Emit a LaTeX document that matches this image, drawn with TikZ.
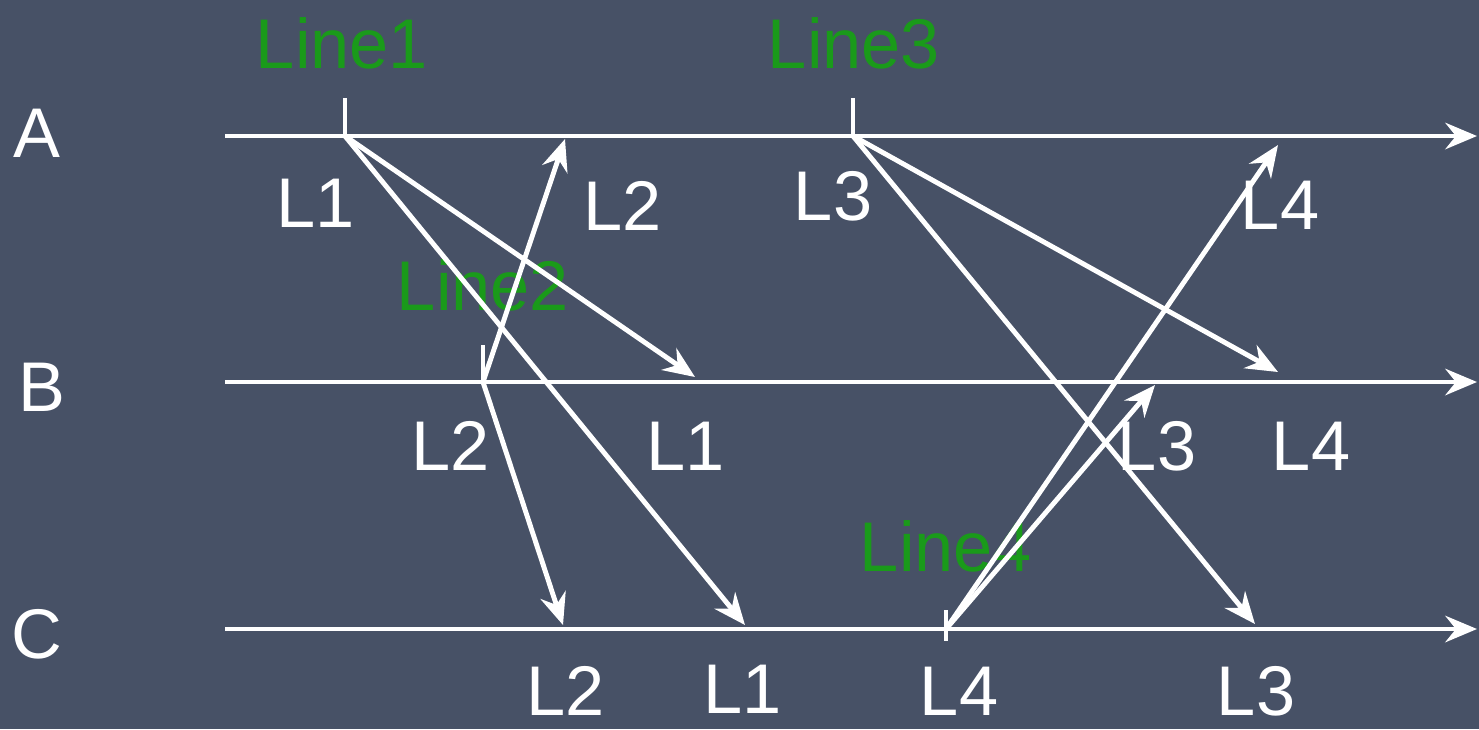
\documentclass[tikz,border=0pt]{standalone}
\usepackage{fontspec}
\setmainfont{Liberation Sans}
\usetikzlibrary{arrows.meta}
\definecolor{slatebg}{RGB}{71,81,102}
\definecolor{evgreen}{RGB}{26,154,26}
\begin{document}
\begin{tikzpicture}[x=0.01cm, y=-0.01cm, >={Stealth[length=9pt, width=7.5pt, inset=3pt]},
    lane/.style={->, draw=white, line width=1.4pt},
    msg/.style={->, draw=white, line width=1.4pt},
    tickmark/.style={draw=white, line width=1.4pt},
    proc/.style={white, inner sep=0pt, font=\fontsize{20}{24}\selectfont},
    lbl/.style={white, inner sep=0pt, font=\fontsize{20}{24}\selectfont},
    evt/.style={evgreen, inner sep=0pt, font=\fontsize{20}{24}\selectfont}]

  % ---- background and fixed frame
  \fill[slatebg] (0,0) rectangle (1479,729);
  \useasboundingbox (0,0) rectangle (1479,729);

  % ---- the three processes
  \node[proc] (pA) at (37,133) {A};
  \node[proc] (pB) at (42,387) {B};
  \node[proc] (pC) at (37,634) {C};
  \coordinate (sA) at (225,136); \coordinate (eA) at (1477,136);
  \coordinate (sB) at (225,382); \coordinate (eB) at (1477,382);
  \coordinate (sC) at (225,629); \coordinate (eC) at (1477,629);
  \draw[lane] (sA) -- (eA);
  \draw[lane] (sB) -- (eB);
  \draw[lane] (sC) -- (eC);

  % ---- the four writes, with their ticks
  \coordinate (w1) at (345,136); \coordinate (t1) at (345,98);
  \coordinate (w2) at (483,382); \coordinate (t2) at (483,345);
  \coordinate (w3) at (853,136); \coordinate (t3) at (853,98);
  \coordinate (w4) at (946,629); \coordinate (t4) at (946,610);
  \coordinate (b4) at (946,641);
  \draw[tickmark] (t1) -- (w1);
  \draw[tickmark] (t2) -- (w2);
  \draw[tickmark] (t3) -- (w3);
  \draw[tickmark] (t4) -- (b4);
  \node[evt] (line1) at (342,43)  {Line1};
  \node[evt] (line2) at (483,285) {Line2};
  \node[evt] (line3) at (854,43)  {Line3};
  \node[evt] (line4) at (946,546) {Line4};

  % ---- where each message arrives
  \coordinate (r1b) at (695,377);
  \coordinate (r1c) at (745,625);
  \coordinate (r2a) at (565,139);
  \coordinate (r2c) at (563,625);
  \coordinate (r3b) at (1278,372);
  \coordinate (r3c) at (1255,624);
  \coordinate (r4a) at (1278,145);
  \coordinate (r4b) at (1155,385);
  \draw[msg] (w1) -- (r1b);
  \draw[msg] (w1) -- (r1c);
  \draw[msg] (w2) -- (r2a);
  \draw[msg] (w2) -- (r2c);
  \draw[msg] (w3) -- (r3b);
  \draw[msg] (w3) -- (r3c);
  \draw[msg] (w4) -- (r4a);
  \draw[msg] (w4) -- (r4b);

  % ---- order in which each process sees the lines
  \node[lbl] (a1) at (316,203)  {L1};
  \node[lbl] (a2) at (623,206)  {L2};
  \node[lbl] (a3) at (833,196)  {L3};
  \node[lbl] (a4) at (1280,205) {L4};
  \node[lbl] (b2) at (451,446)  {L2};
  \node[lbl] (b1) at (686,446)  {L1};
  \node[lbl] (b3) at (1157,446) {L3};
  \node[lbl] (b4) at (1311,446) {L4};
  \node[lbl] (c2) at (566,691)  {L2};
  \node[lbl] (c1) at (743,689)  {L1};
  \node[lbl] (c4) at (959,691)  {L4};
  \node[lbl] (c3) at (1256,691) {L3};
\end{tikzpicture}
\end{document}
